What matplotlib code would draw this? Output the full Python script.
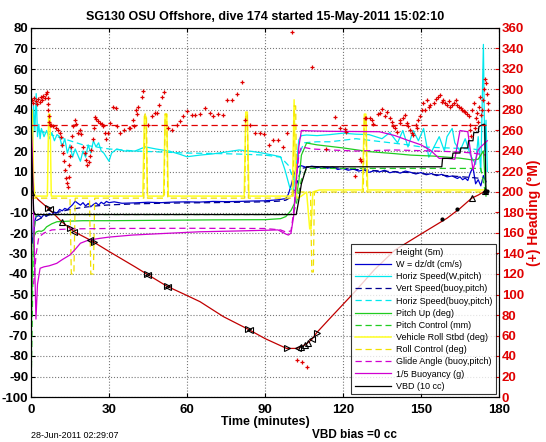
#!/usr/bin/env python

import matplotlib
matplotlib.use('Agg')
import matplotlib.pyplot as plt
import numpy as np

plt.rcParams['font.family'] = ['Liberation Sans', 'DejaVu Sans']
plt.rcParams['axes.unicode_minus'] = False

# Height (5m) - red line
ht_t = [0, 3, 6.7, 11.8, 15, 16.5, 22.7, 24.2, 30, 40, 44.5, 52.2, 60, 65, 74, 83.6, 90, 98.3, 102.2, 104, 106,
        108, 109.9, 115, 124.6, 132, 140, 150, 160, 165, 169.5, 172, 174.6, 175]
ht_v = [0, -4, -8, -14.5, -17.7, -19.3, -23.4, -24.5, -29, -36.5, -40, -45.9, -50.5, -53.5, -60.8, -67, -71.5,
        -76.3, -76.3, -75.5, -74, -71.9, -68.6, -61.6, -48.6, -38, -28.3, -20.5, -12.8, -8, -3, -1.5, 0.5, 0]

# triangle markers on the height trace
mr_t = [6.7, 15, 24.2, 44.5, 52.2, 83.6, 98.5, 109.9]
mr_v = [-8, -17.7, -24.5, -40, -45.9, -67, -76.3, -68.6]
ml_t = [7.3, 16.5, 22.7, 45, 52.7, 84.2, 102.5, 108]
ml_v = [-8.5, -19.3, -23.4, -40.3, -46.2, -67.3, -76.3, -71.9]
mu_t = [0, 11.8, 104, 105.5, 106.5, 169.5, 174.6]
mu_v = [0, -14.5, -75.5, -74.5, -73.5, -3, 0.5]
md_t = [158, 164, 174.8, 175.2]
md_v = [-13.3, -8.5, 0, 0.5]

# W = dz/dt (cm/s)
w_t = [0, 0.5, 1, 1.5, 2, 3, 4, 5, 6, 7, 8, 9, 10, 11, 12, 13, 14, 15, 16, 17, 18, 19, 20, 21, 22, 23, 24, 25,
       26, 27, 28, 29, 30, 32, 35, 40, 45, 50, 55, 60, 65, 70, 75, 80, 85, 90, 95, 98, 99, 100, 101, 102, 103,
       104, 106, 108, 110, 112, 114, 116, 118, 120, 122, 124, 126, 128, 130, 132, 134, 136, 138, 140, 142, 144,
       146, 148, 150, 152, 154, 156, 158, 160, 162, 164, 165, 166, 167, 168, 169, 170, 171, 172, 173, 174, 175]
w_v = [-5, -25, -22, -14, -12, -11.5, -12.5, -11, -11.8, -10.5, -11.2, -9.8, -10.3, -8.5, -9.2, -8, -8.6, -7.4,
       -6.2, -4.5, -5.5, -6.4, -5.2, -6.8, -5.6, -7.2, -6.1, -5.3, -6.4, -5, -5.8, -4.6, -5.2, -4.8, -5.5, -5.3,
       -5.0, -5.2, -4.9, -4.8, -4.9, -4.6, -4.7, -4.6, -4.4, -4.3, -3.8, -3.2, -1, 3, 8, 11, 12.5, 12.8, 12,
       12.6, 11.8, 12.4, 11.6, 12.2, 11, 11.5, 10.6, 11.2, 10.2, 10.8, 9.6, 10.4, 9.8, 10.6, 9.4, 10, 9.2, 10.2,
       9.6, 8.8, 9.5, 8.4, 9, 8, 8.6, 7.4, 7.8, 6.6, 7.4, 6, 6.8, 5.6, 9.5, 12, 4, 6, 3, 8, 5]

# Horiz Speed (W,pitch)
hs_t = [0.5, 1, 1.5, 2, 2.5, 3, 3.5, 4, 5, 6, 7, 8, 9, 10, 11, 12, 13, 14, 15, 16, 17, 18, 19, 20, 21, 22, 23,
        24, 25, 26, 27, 28, 29, 30, 31, 33, 36, 40, 44, 48, 53, 57, 60, 65, 70, 75, 80, 85, 89, 93, 96, 97.7,
        99.6, 101, 102, 103, 104, 106, 110, 115, 120, 125, 130, 135, 138, 141, 143, 145, 147, 149, 151, 153,
        155, 157, 159, 160, 162, 163, 165, 167, 169, 171, 172, 173, 174, 174.5, 175, 175.5]
hs_v = [20, 42, 30, 48, 27, 33, 26, 31, 27, 30, 26, 29, 25, 28, 27, 22, 26, 19, 23, 17, 21, 18, 15, 20, 17, 23,
        19, 25, 22, 24, 20, 19, 17, 15, 19, 21, 20, 20, 22, 21, 20, 18.5, 17.2, 18, 18.6, 19.5, 20.5, 19.8, 19,
        18, 17.2, 10.7, 1.8, 1, 12, 25.4, 27.5, 27.8, 27.5, 28, 28.7, 28.2, 28, 26, 29, 24, 30, 22, 30, 25, 31,
        17, 22, 27, 20, 27, 31, 24, 20, 26, 18, 13.5, 27, 10, 72, 20, 35, 10]

# Vert Speed (buoy,pitch)
vs_t = [2, 5, 10, 15, 20, 25, 30, 40, 50, 60, 70, 80, 90, 95, 98, 100, 102, 104, 108, 115, 125, 135, 145, 155,
        165, 170, 174]
vs_v = [-14, -12, -10, -8.5, -7.5, -6.8, -6.3, -5.8, -5.5, -5.3, -5.2, -5, -4.8, -4.5, -4, -2.5, 3, 11.5, 12.5,
        12, 11, 10.2, 9.5, 8.5, 7.5, 7, 6.5]

# Horiz Speed (buoy,pitch)
hb_t = [3, 5, 10, 15, 20, 25, 30, 35, 40, 50, 60, 70, 80, 90, 96, 99, 101, 103, 105, 110, 115, 125, 135, 145,
        150, 160, 170, 174]
hb_v = [30, 29, 27, 25, 23, 22, 21, 20.5, 20, 19.5, 19, 18.8, 18.5, 18, 17, 13, 6, 18, 24, 24.5, 24.5, 26, 24.5,
        23, 22, 21.5, 21, 20]

# Pitch Up (deg)
pu_t = [0, 0.5, 1, 2, 3, 4, 5, 6, 8, 10, 15, 20, 30, 50, 70, 90, 96, 98, 100, 101.6, 103, 104, 106, 110, 120,
        130, 140, 146, 155, 160, 165, 170, 172, 174, 175]
pu_v = [-75, -40, -22, -19.5, -19, -19.2, -18.5, -17, -15.5, -14.5, -14.2, -14, -14, -13.8, -13.6, -13.5, -13,
        -12, -9, -4.9, 5, 18, 23.9, 23, 21.5, 19.7, 18.7, 18, 17.5, 17, 16.5, 15.6, 16, 20, -2]

# Pitch Control (mm)
pc_t = [0, 0.5, 1, 2, 100, 101, 102, 103, 104, 106, 173, 175]
pc_v = [-100, -60, -20, -11, -11, -10, -6, 0, 6, 11.5, 11.5, -2]

# Vehicle Roll Stbd (deg)
rv_t = [0, 0.5, 1, 1.5, 2, 6.3, 6.8, 7.3, 7.8, 43, 43.6, 44.2, 44.8, 51, 51.6, 52.2, 52.8, 82, 82.6, 83.2,
        83.8, 100.5, 101.2, 101.8, 102.5, 104, 106, 107.2, 107.7, 108.4, 109.5, 111, 127.5, 128.2, 128.8, 129.5,
        175]
rv_v = [-20, 40, 5, -2, -2, -2, 38, 38, -2, -2, 37, 37, -2, -2, 38, 38, -2, -2, 39, 39, -2, -2, 45, 0, -3, -2,
        0, -18, -18, 0, 0.5, 1, 1, 38, 38, 1, 1]

# Roll Control (deg)
rc_t = [0, 15, 15.5, 16.5, 17, 22.5, 23, 24, 24.5, 43.4, 43.8, 44.4, 44.8, 51.2, 51.6, 52.2, 52.6, 82.2, 82.6,
        83.2, 83.6, 100.8, 101.2, 101.8, 102.2, 107.5, 108, 108.6, 109, 127.8, 128.2, 128.8, 129.2, 175]
rc_v = [-3, -3, -40, -40, -3, -3, -40, -40, -3, -3, 38, 38, -3, -3, 38, 38, -3, -3, 38, 38, -3, -3, 42, 42, 0,
        0, -39, -39, 0, 0, 36, 36, 0, 0]

# Glide Angle (buoy,pitch)
ga_t = [1, 2, 3, 5, 8, 15, 30, 60, 90, 96, 98, 100, 101, 102, 103, 104, 108, 115, 125, 140, 155, 165, 170, 175]
ga_v = [-45, -30, -22, -20, -18.5, -18, -17.8, -17.7, -17.8, -18.5, -19.5, -19, -10, 5, 18, 22, 21, 20.5, 20,
        20.5, 20, 19.5, 19, 18]

# 1/5 Buoyancy (g)
bu_t = [0, 0.5, 1, 1.5, 1.9, 2.5, 3.5, 5, 7, 9.9, 12, 15, 17, 19, 22, 26.5, 30, 39, 50, 65, 80, 95, 98, 99, 100,
        101, 102, 103, 104, 108, 115, 125, 134, 140, 144.5, 150, 153.5, 157, 160, 163, 165, 168, 170, 172, 173,
        175.5]
bu_v = [35, 20, -10, -40, -62, -45, -37.2, -36.5, -36, -34.8, -33, -30.7, -28, -25, -23.5, -22.6, -22, -21,
        -20.3, -19.4, -19, -18.5, -20.5, -21, -20, -12, 5, 22, 30, 29.8, 29.6, 29.5, 29.4, 27.5, 25.4, 23, 20.5,
        16.4, 16.4, 16, 30, 29.4, 10.7, 20.5, 22, 25]

# VBD (10 cc)
vb_t = [0, 0.5, 1, 1.5, 102, 103, 104, 106, 158, 158.3, 162, 162.3, 165, 165.3, 168, 168.3, 170, 170.3, 172,
        172.3, 174, 174.5, 175]
vb_v = [27, 10, -9, -11, -11, -4, 4, 12.3, 12.3, 16.4, 16.4, 19, 19, 21.5, 21.5, 25, 25, 29, 29, 32, 33, 33, 0]

# (+) Heading (deg M), right axis
hd_t = [0.3, 0.8, 1.3, 1.8, 2.3, 2.8, 3.3, 3.8, 4.3, 4.8, 5.3, 5.8, 6.3, 6.5, 6.6, 6.7, 6.9, 7.1, 7.4, 7.8,
        8.5, 9.5, 10.5, 11.2, 11.7, 12.0, 12.3, 12.6, 12.9, 13.3, 13.7, 14.2, 14.5, 14.7, 15, 15.3, 15.8, 16.3,
        16.8, 17.3, 18, 18.7, 19.4, 20, 20.6, 21.3, 21.7, 22.2, 22.7, 23.2, 23.7, 24.2, 24.5, 25.1, 25.7, 26.5,
        27.2, 27.7, 28.3, 29, 29.6, 30.3,
        31.5, 32.8, 33.2, 34.4, 35.7, 37.6, 38, 39.4, 39.6, 40.2, 40.6, 41.3, 42.6, 43.2, 45.1, 46.4, 47.7, 48.3,
        49.4, 50.3, 51, 52.8, 54.1, 56, 57.3, 58.6, 59.9, 61.8, 63.1, 65, 66.9, 68.8, 70.1, 72, 74, 75.3, 77.2,
        79.1, 81, 82.3, 84.2, 86.2, 88.1, 89.6, 91.7, 93.2, 95.1, 96.8, 98.3, 100.3,
        102.2, 104.2, 106, 108, 113.3, 116.9, 118.8, 120.7, 121, 124.6, 126.5, 126.9, 128.5, 129, 130.4, 131,
        131.6, 133.5,
        134.2, 135, 136.2, 137, 138.1, 139, 139.4, 140, 140.6, 141.9, 142, 143.2, 143.8, 144.5, 145, 145.8,
        146.5, 147.1, 148, 148.4, 149, 149.6, 150.3, 150.9, 151.6, 152.3, 152.9, 153.6, 154.9, 155.6, 156.7,
        157.4, 158, 158.6, 159.3, 160, 160.7, 161.3, 162, 162.6, 163.3, 164, 164.5, 165.2, 165.8, 166.5, 167.1,
        167.7, 168.4, 168.8, 169, 169.3, 169.6, 170.2, 170.6, 171, 171.5, 171.8, 172.2, 172.7, 173, 173.5, 174,
        174.4, 174.8, 175, 175.3, 175.6, 175.8]
hd_v = [290, 287, 292, 289, 286, 291, 288, 293, 290, 294, 292, 296, 298, 292, 286, 280, 274, 268, 265, 265,
        264, 262, 260, 258, 254, 246, 238, 230, 221, 214, 209, 205, 215, 226, 235, 244, 255, 264,
        270, 266, 258, 260, 257, 244, 238, 231, 226, 229, 235, 241, 252, 262, 273, 271, 269, 267,
        266, 264, 258, 252, 258, 267,
        283, 282, 264, 258, 260, 262, 262, 270, 264, 280, 276, 283, 293, 299, 265, 274, 277, 277,
        285, 293, 298, 262, 260, 265, 269, 274, 279, 275, 275, 276, 282, 277, 274, 276, 275, 290, 290,
        296, 307, 270, 265, 258, 258, 257, 246, 251, 251, 244, 258, 356,
        36, 34, 29, 322, 242, 273, 262, 261, 259, 216, 232, 230, 272, 272, 272, 270,
        266, 276,
        277, 281, 274, 278, 272, 268, 264, 262, 259, 267, 270, 272, 275, 267, 264, 260,
        258, 256, 265, 262, 270, 274, 280, 287, 280, 290, 283, 285, 287, 291, 293,
        295, 288, 290, 287, 285, 289, 283, 285, 287, 290, 285, 283, 282, 280, 279, 278,
        276, 274, 265, 260, 255, 280, 287, 262, 272, 277, 268, 283, 293, 275, 280, 290,
        300, 310, 306, 296, 287, 280]
hl_t = [0, 175]
hl_v = [265, 265]

fig = plt.figure(figsize=(5.46, 4.42), dpi=100)
ax = fig.add_axes([31 / 546, 45 / 442, 468 / 546, 369 / 442])

lw = 0.9
l_ht, = ax.plot(ht_t, ht_v, color='#c00000', lw=lw, label='Height (5m)')
l_w, = ax.plot(w_t, w_v, color='#0000d0', lw=lw, label='W = dz/dt (cm/s)')
l_hs, = ax.plot(hs_t, hs_v, color='#00e8ee', lw=lw, label='Horiz Speed(W,pitch)')
l_vs, = ax.plot(vs_t, vs_v, color='#000090', lw=lw, ls=(0, (5, 3)), label='Vert Speed(buoy,pitch)')
l_hb, = ax.plot(hb_t, hb_v, color='#00e8ee', lw=lw, ls=(0, (5, 3)), label='Horiz Speed(buoy,pitch)')
l_pu, = ax.plot(pu_t, pu_v, color='#20cc20', lw=lw, label='Pitch Up (deg)')
l_pc, = ax.plot(pc_t, pc_v, color='#20cc20', lw=lw, ls=(0, (5, 3)), label='Pitch Control (mm)')
l_rv, = ax.plot(rv_t, rv_v, color='#ffff20', lw=1.1, label='Vehicle Roll Stbd (deg)')
l_rc, = ax.plot(rc_t, rc_v, color='#f0e000', lw=lw, ls=(0, (5, 3)), label='Roll Control (deg)')
l_ga, = ax.plot(ga_t, ga_v, color='#d000d0', lw=lw, ls=(0, (5, 3)), label='Glide Angle (buoy,pitch)')
l_bu, = ax.plot(bu_t, bu_v, color='#d000d0', lw=lw, label='1/5 Buoyancy (g)')
l_vb, = ax.plot(vb_t, vb_v, color='black', lw=lw, label='VBD (10 cc)')

# triangles on the height trace
mk = dict(color='none', mec='black', mew=0.8, ms=5, ls='none')
ax.plot(mr_t, mr_v, marker='>', **mk)
ax.plot(ml_t, ml_v, marker='<', **mk)
ax.plot(mu_t, mu_v, marker='^', **mk)
ax.plot(md_t, md_v, marker='o', color='black', ms=2, ls='none')

ax.set_xlim(0, 180)
ax.set_ylim(-100, 80)
ax.set_xticks(np.arange(0, 181, 30))
ax.set_yticks(np.arange(-100, 81, 10))
ax.grid(True, ls=':', color='#777777', lw=0.8)
ax.tick_params(direction='in', top=True, labelsize=9.5, length=3, pad=2)
ax.tick_params(axis='x', pad=5)
for lab in ax.get_xticklabels() + ax.get_yticklabels():
    lab.set_fontweight('bold')
ax.set_xlabel('Time (minutes)', fontsize=9, fontweight='bold', labelpad=0)
ax.set_title('SG130 OSU Offshore, dive 174 started 15-May-2011 15:02:10', fontsize=9, fontweight='bold', pad=6)

# heading on the right axis
ax2 = ax.twinx()
ax2.plot(hd_t, hd_v, marker='+', color='#e00000', ms=3.5, mew=0.9, ls='none')
ax2.plot(hl_t, hl_v, color='#e00000', lw=lw, ls=(0, (5, 3)))
ax2.set_ylim(0, 360)
ax2.set_yticks(np.arange(0, 361, 20))
ax2.tick_params(direction='in', labelsize=9.5, length=3, pad=2, colors='#e00000')
for lab in ax2.get_yticklabels():
    lab.set_fontweight('bold')
ax2.set_ylabel('(+) Heading (°M)', color='#e00000', fontsize=10, fontweight='bold', labelpad=2)

handles = [l_ht, l_w, l_hs, l_vs, l_hb, l_pu, l_pc, l_rv, l_rc, l_ga, l_bu, l_vb]
leg = ax2.legend(handles=handles, loc='lower right', fontsize=6.5, frameon=True, fancybox=False,
                 edgecolor='black', handlelength=4, labelspacing=0.35, borderaxespad=0.3, handletextpad=0.6,
                 borderpad=0.4)
leg.get_frame().set_linewidth(0.8)

fig.text(31 / 546, 1 - 435 / 442, '28-Jun-2011 02:29:07', fontsize=6.5, va='center')
fig.text(312 / 546, 1 - 435 / 442, 'VBD bias =0 cc', fontsize=8.5, fontweight='bold', va='center')

fig.savefig('out.png', dpi=100)
plt.close(fig)
